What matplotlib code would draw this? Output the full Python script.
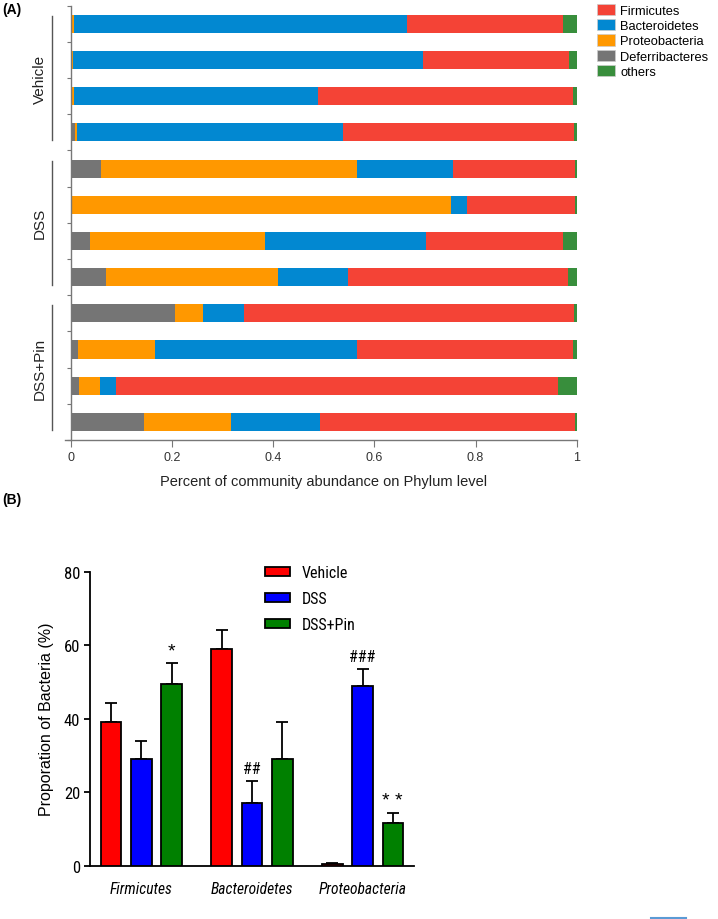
import matplotlib
matplotlib.use("Agg")
import numpy as np
import matplotlib.pyplot as plt
from matplotlib import font_manager
from matplotlib.lines import Line2D
from matplotlib.patches import Patch

# ---- panel A data: fraction of each phylum per sample ----
samples = ["V1", "V2", "V3", "V4", "D1", "D2", "D3", "D4", "P1", "P2", "P3", "P4"]
deferribacteres = [0.000, 0.000, 0.002, 0.008, 0.059, 0.000, 0.038, 0.070, 0.206, 0.013, 0.016, 0.145]
proteobacteria = [0.005, 0.003, 0.003, 0.004, 0.507, 0.751, 0.346, 0.339, 0.056, 0.154, 0.041, 0.171]
bacteroidetes = [0.659, 0.693, 0.484, 0.525, 0.190, 0.033, 0.318, 0.138, 0.080, 0.398, 0.032, 0.177]
firmicutes = [0.308, 0.289, 0.503, 0.458, 0.241, 0.213, 0.270, 0.436, 0.653, 0.427, 0.874, 0.504]
others = [0.028, 0.015, 0.008, 0.005, 0.003, 0.003, 0.028, 0.017, 0.005, 0.008, 0.037, 0.003]
groups_a = ["Vehicle", "DSS", "DSS+Pin"]

# ---- panel B data: mean proportion (%) and SEM ----
phyla = ["Firmicutes", "Bacteroidetes", "Proteobacteria"]
treatments = ["Vehicle", "DSS", "DSS+Pin"]
means = {"Vehicle": [39.1, 59.1, 0.4], "DSS": [28.9, 17.0, 48.8], "DSS+Pin": [49.4, 29.1, 11.5]}
sems = {"Vehicle": [5.3, 5.0, 0.2], "DSS": [5.0, 6.0, 4.6], "DSS+Pin": [5.8, 9.9, 2.8]}
marks = {("DSS+Pin", 0): "*", ("DSS", 1): "##", ("DSS", 2): "###", ("DSS+Pin", 2): "**"}

SANS = "Liberation Sans"
plt.rcParams["font.family"] = SANS

# a condensed face for panel B (GraphPad style), if one is installed
fonts = font_manager.fontManager.ttflist
names = {f.name for f in fonts}
narrow = None
for cand in ["Liberation Sans Narrow", "Roboto Condensed", "DejaVu Sans Condensed", "Open Sans Condensed"]:
    if cand in names:
        narrow = {"family": cand}
        break
if narrow is None:
    for f in fonts:
        if f.name == "DejaVu Sans" and str(f.stretch) in ("condensed", "semi-condensed", "600", "700"):
            narrow = {"family": "DejaVu Sans", "stretch": "condensed"}
            break
    for f in fonts:
        if narrow is None and str(f.stretch) in ("condensed", "semi-condensed"):
            narrow = {"family": f.name, "stretch": f.stretch}
scale = 1.0
if narrow is None:
    narrow = {"family": SANS}
    scale = 0.82

fig = plt.figure(figsize=(7.18, 9.2), dpi=100)
W, H = 718, 920


def fig_rect(x0, y0, x1, y1):
    return [x0 / W, 1 - y1 / H, (x1 - x0) / W, (y1 - y0) / H]


# ================= Panel A =================
ax = fig.add_axes(fig_rect(71, 6.7, 576.7, 441))
colors_a = {"Deferribacteres": "#757575", "Proteobacteria": "#FF9800",
            "Bacteroidetes": "#0288D1", "Firmicutes": "#F44336", "others": "#388E3C"}
stack = [("Deferribacteres", deferribacteres), ("Proteobacteria", proteobacteria),
         ("Bacteroidetes", bacteroidetes), ("Firmicutes", firmicutes), ("others", others)]
ypos = np.arange(len(samples))
left = np.zeros(len(samples))
for name, vals in stack:
    vals = np.array(vals)
    ax.barh(ypos, vals, left=left, height=0.5, color=colors_a[name], edgecolor="none")
    left += vals

ax.set_ylim(len(samples) - 0.5, -0.5)
ax.set_xlim(0, 1)
ax.set_yticks(np.arange(len(samples) + 1) - 0.5)
ax.set_yticklabels([])
ax.set_xticks([0, 0.2, 0.4, 0.6, 0.8, 1.0])
ax.set_xticklabels(["0", "0.2", "0.4", "0.6", "0.8", "1"])
for s in ["top", "right"]:
    ax.spines[s].set_visible(False)
for s in ["left", "bottom"]:
    ax.spines[s].set_color("#777777")
    ax.spines[s].set_linewidth(1.0)
ax.spines["bottom"].set_bounds(-0.012, 1)
ax.tick_params(axis="y", length=3, color="#777777")
ax.tick_params(axis="x", length=5, color="#777777", labelsize=9, labelcolor="#333333", pad=3)
ax.set_xlabel("Percent of community abundance on Phylum level", fontsize=10.5,
              color="#222222", labelpad=8)

# group brackets on the left
for gi, g in enumerate(groups_a):
    y0 = gi * 4 - 0.5 + 0.28
    y1 = gi * 4 + 3.5 - 0.28
    ax.add_line(Line2D([-0.037, -0.037], [y0, y1], color="#555555", lw=1.0,
                       transform=ax.get_yaxis_transform(), clip_on=False))
    ax.text(-0.062, (y0 + y1) / 2, g, rotation=90, ha="center", va="center",
            fontsize=11, color="#222222", transform=ax.get_yaxis_transform())

leg_order = ["Firmicutes", "Bacteroidetes", "Proteobacteria", "Deferribacteres", "others"]
handles = [Patch(facecolor=colors_a[n], edgecolor="#cccccc", lw=0.5) for n in leg_order]
fig.legend(handles, leg_order, loc="upper left", bbox_to_anchor=(597 / W, 1 - 5 / H),
           frameon=False, handlelength=1.4, handleheight=0.95,
           labelspacing=0.17, handletextpad=0.4, borderpad=0, borderaxespad=0,
           prop={"family": SANS, "size": 9.3})

fig.text(2 / W, 1 - 10 / H, "(A)", fontsize=10, fontweight="bold", va="center", ha="left")
fig.text(2 / W, 1 - 500 / H, "(B)", fontsize=10, fontweight="bold", va="center", ha="left")

# ================= Panel B =================
bx = fig.add_axes(fig_rect(90, 572.7, 414, 866.7))
colors_b = {"Vehicle": "#FF0000", "DSS": "#0000FF", "DSS+Pin": "#008000"}
centers = np.arange(len(phyla)) * 3.65
for ti, t in enumerate(treatments):
    xs = centers + (ti - 1)
    bx.bar(xs, means[t], width=0.68, color=colors_b[t], edgecolor="black", linewidth=1.3,
           label=t, zorder=3)
    bx.errorbar(xs, means[t], yerr=[np.zeros(len(phyla)), sems[t]], fmt="none",
                ecolor="black", elinewidth=1.3, capsize=4.5, capthick=1.3, zorder=2)
    for pi in range(len(phyla)):
        if (t, pi) in marks:
            txt = marks[(t, pi)]
            top = means[t][pi] + sems[t][pi]
            if "*" in txt:
                bx.text(xs[pi], top + 1.0, " ".join(txt), ha="center", va="bottom",
                        fontsize=14, family=SANS)
            else:
                bx.text(xs[pi], top + 1.4, txt, ha="center", va="bottom",
                        fontsize=11.5 * scale, **narrow)

bx.set_xlim(-1.7, 9.0)
bx.set_ylim(0, 80)
bx.set_yticks([0, 20, 40, 60, 80])
bx.set_xticks(centers)
bx.set_xticklabels(phyla)
for lab in bx.get_xticklabels():
    lab.set_fontproperties(font_manager.FontProperties(style="italic", size=11.2 * scale, **narrow))
for lab in bx.get_yticklabels():
    lab.set_fontproperties(font_manager.FontProperties(size=12 * scale, **narrow))
bx.tick_params(axis="y", length=4, width=1.3, pad=3)
bx.tick_params(axis="x", length=0, pad=11)
for s in ["top", "right"]:
    bx.spines[s].set_visible(False)
for s in ["left", "bottom"]:
    bx.spines[s].set_linewidth(1.3)
bx.set_ylabel("Proporation of Bacteria (%)", fontsize=11.5, labelpad=7)
bx.legend(loc="upper left", bbox_to_anchor=(265 / W, 1 - 566 / H),
          bbox_transform=fig.transFigure, frameon=False,
          prop=font_manager.FontProperties(size=11.5 * scale, **narrow),
          handlelength=1.55, handleheight=0.5,
          labelspacing=0.68, handletextpad=0.75, borderpad=0, borderaxespad=0)

# small blue stroke at bottom-right corner
fig.add_artist(Line2D([651 / W, 686 / W], [1 - 919 / H, 1 - 919 / H], color="#5B9BD5", lw=1.5))

fig.savefig("out.png", dpi=100)
